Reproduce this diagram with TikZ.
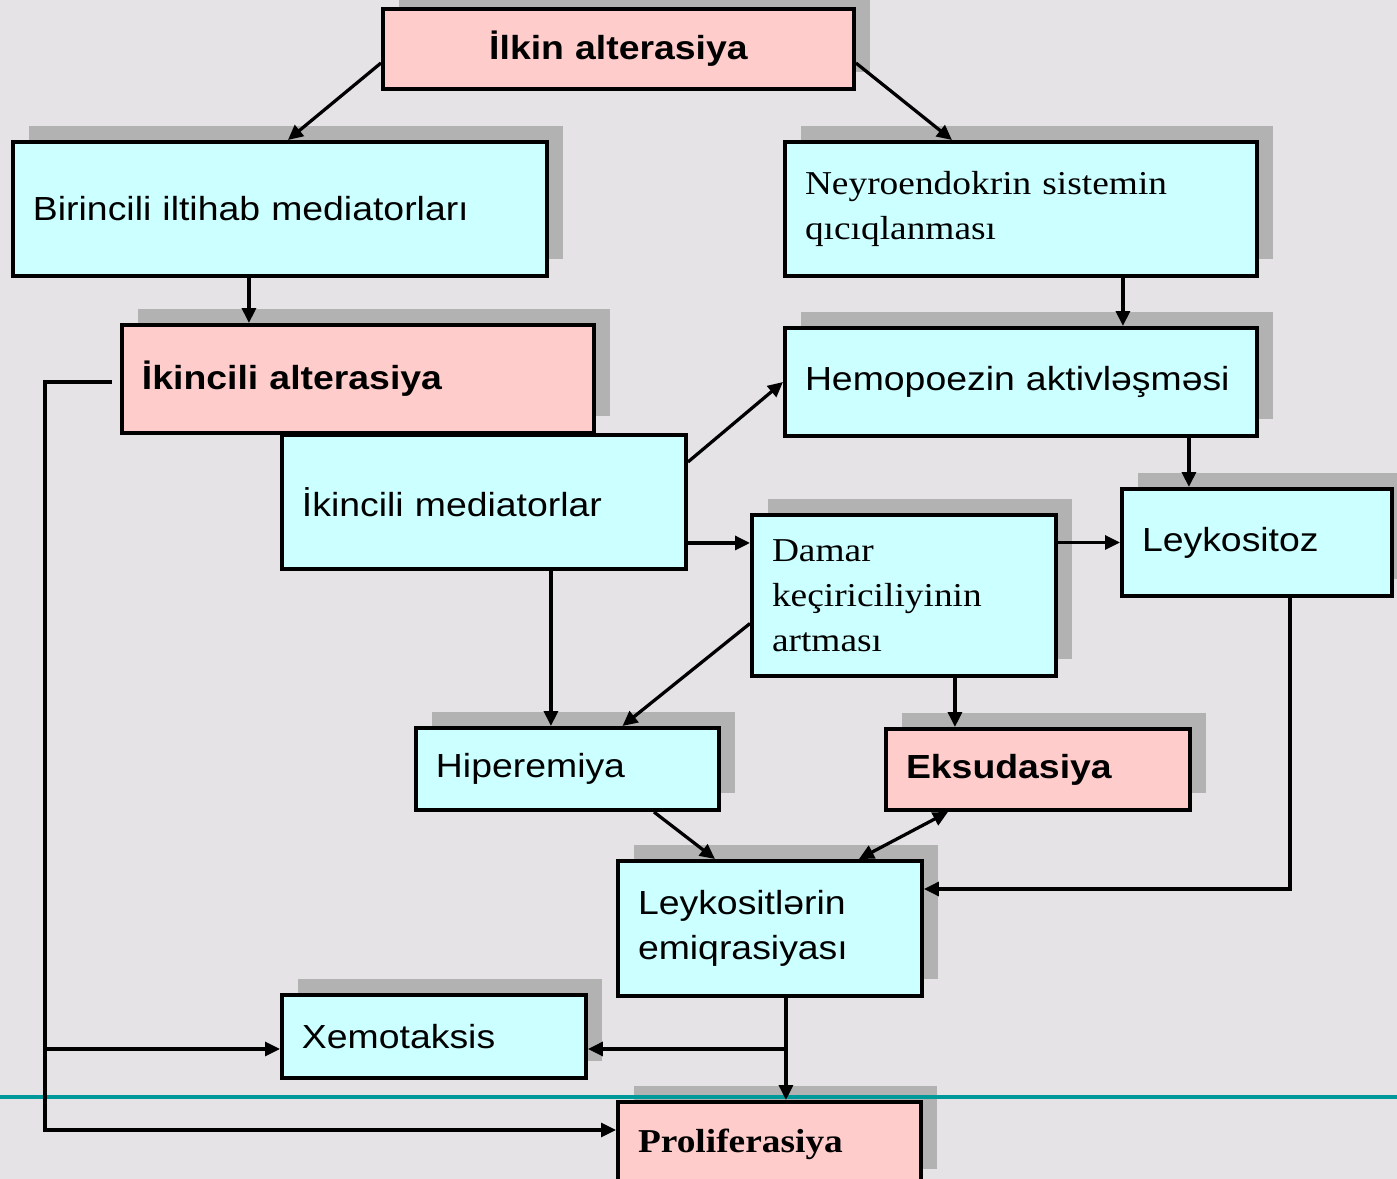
\documentclass[tikz,border=0pt]{standalone}
\usepackage{fontspec}
\setmainfont{Liberation Sans}[FakeStretch=1.12]
\newfontfamily\timesfont{Liberation Serif}[FakeStretch=1.12]
\usetikzlibrary{arrows.meta,shadows}
\definecolor{bgback}{RGB}{229,227,230}
\definecolor{cyanfill}{RGB}{204,255,255}
\definecolor{pinkfill}{RGB}{255,204,204}
\definecolor{shade}{RGB}{178,178,178}
\definecolor{tealline}{RGB}{0,153,153}

\begin{document}
\begin{tikzpicture}[x=0.02cm,y=-0.02cm,
  plainbox/.style={draw,line width=0.08cm,anchor=north west,inner xsep=0.4cm,inner ysep=0.05cm,
    align=left,fill=cyanfill,font=\fontsize{19}{25.6}\selectfont},
  cyanbox/.style={plainbox,drop shadow={shadow xshift=0.32cm,shadow yshift=0.33cm,fill=shade,opacity=1}},
  pinkbox/.style={cyanbox,fill=pinkfill},
  roman/.style={font=\timesfont\fontsize{19}{25.6}\selectfont},
  heavy/.style={font=\fontsize{19}{25.6}\selectfont\bfseries},
  romanheavy/.style={font=\timesfont\fontsize{19}{25.6}\selectfont\bfseries},
  >={Triangle[length=0.3cm,width=0.28cm]}, line width=0.065cm]
\useasboundingbox (0,0) rectangle (1397,1179);
\clip (0,0) rectangle (1397,1179);
\fill[bgback] (0,0) rectangle (1397,1179);

\node[pinkbox,heavy,align=center,text width=8.62cm,minimum height=1.6cm] (ilkin) at (381,7) {İlkin alterasiya};
\node[cyanbox,text width=9.88cm,minimum height=2.68cm] (birinc) at (11,140) {Birincili iltihab mediatorları};
\node[cyanbox,roman,text width=8.64cm,minimum height=2.68cm] (neyro) at (783,140) {Neyroendokrin sistemin\\qıcıqlanması};
\node[pinkbox,heavy,text width=8.64cm,minimum height=2.16cm] (ikalt) at (120,323) {İkincili alterasiya};
\node[cyanbox,text width=8.64cm,minimum height=2.16cm] (hemo) at (783,326) {Hemopoezin aktivləşməsi};
\node[plainbox,text width=7.28cm,minimum height=2.68cm] (ikmed) at (280,433) {İkincili mediatorlar};
\node[cyanbox,roman,text width=5.28cm,minimum height=3.22cm] (damar) at (750,513) {Damar\\keçiriciliyinin\\artması};
\node[cyanbox,text width=4.6cm,minimum height=2.14cm] (leykoz) at (1120,487) {Leykositoz};
\node[cyanbox,text width=5.26cm,minimum height=1.64cm] (hiper) at (414,726) {Hiperemiya};
\node[pinkbox,heavy,text width=5.28cm,minimum height=1.62cm] (eksud) at (884,727) {Eksudasiya};
\node[cyanbox,text width=5.28cm,minimum height=2.7cm] (emiq) at (616,859) {Leykositlərin\\emiqrasiyası};
\node[cyanbox,text width=5.28cm,minimum height=1.66cm] (xemo) at (280,993) {Xemotaksis};
\node[pinkbox,romanheavy,text width=5.26cm,minimum height=1.68cm] (prolif) at (616,1100) {Proliferasiya};

\draw[tealline] (0,1097) -- (1397,1097);

% top part
\draw[->] ([yshift=-0.28cm]ilkin.west) -- ([xshift=0.16cm]birinc.north);
\draw[->] ([yshift=-0.28cm]ilkin.east) -- ([xshift=-1.38cm]neyro.north);
\draw[->] ([xshift=-0.62cm]birinc.south) -- ([xshift=-0.62cm]birinc.south |- ikalt.north);
\draw[->] ([xshift=2.04cm]neyro.south) -- ([xshift=2.04cm]hemo.north);
\draw[->] ([xshift=3.36cm]hemo.south) -- ([xshift=3.36cm]hemo.south |- leykoz.north);
\draw[->] ([yshift=0.8cm]ikmed.east) -- (hemo.west);
\draw[->] ([yshift=-0.82cm]ikmed.east) -- ([yshift=-0.82cm]ikmed.east -| damar.west);
\draw[->] (damar.east |- leykoz.west) -- (leykoz.west);
% middle part
\draw[->] ([xshift=1.34cm]ikmed.south) -- ([xshift=1.34cm]ikmed.south |- hiper.north);
\draw[->] ([yshift=-0.56cm]damar.west) -- ([xshift=1.1cm]hiper.north);
\draw[->] ([xshift=1.02cm]damar.south) -- ([xshift=1.02cm]damar.south |- eksud.north);
\draw[->] ([xshift=1.73cm]hiper.south) -- ([xshift=-1.1cm]emiq.north);
\draw[<->] ([xshift=-1.8cm]eksud.south) -- ([xshift=1.78cm]emiq.north);
\draw[->] ([xshift=0.66cm]leykoz.south) |- ([yshift=0.79cm]emiq.east);
% bottom part
\draw[->] ([xshift=0.32cm]emiq.south) coordinate (emq) -- (emq |- prolif.north);
\path ([yshift=-0.25cm]xemo.east) coordinate (xe);
\draw[->] (emq |- xe) -- (xe);
\draw[->] ([xshift=-0.16cm,yshift=-0.06cm]ikalt.west) -- ++(-1.34cm,0) coordinate (lft) |- ([yshift=0.28cm]prolif.west);
\path ([yshift=-0.25cm]xemo.west) coordinate (xw);
\draw[->] (lft |- xw) -- (xw);
\end{tikzpicture}
\end{document}
